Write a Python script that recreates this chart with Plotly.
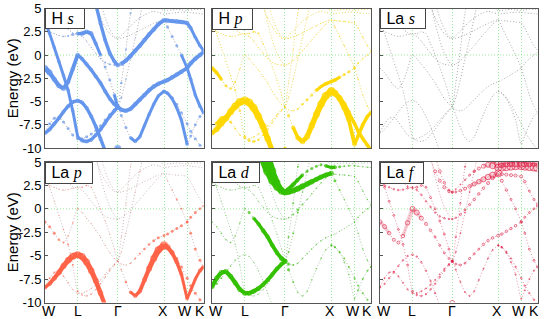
import numpy as np
import plotly.graph_objects as go
from plotly.subplots import make_subplots

# ---------------- data ----------------
K_PATH = [0.0, 0.1, 0.2, 0.3, 0.4, 0.5, 0.6, 0.707,
          0.8, 0.9, 1.0, 1.1, 1.2, 1.3, 1.4, 1.5, 1.573,
          1.65, 1.75, 1.85, 1.95, 2.05, 2.15, 2.25, 2.35, 2.45, 2.573,
          2.65, 2.75, 2.85, 2.95, 3.073,
          3.15, 3.25, 3.35, 3.427]
K_NODES = [0.0, 0.707, 1.573, 2.573, 3.073, 3.427]
K_LABELS = ['W', 'L', 'Γ', 'X', 'W', 'K']
E_TICKS = [5, 2.5, 0, -2.5, -5, -7.5, -10]
E_TICK_TEXT = ['5', '2.5', '0', '-2.5', '-5', '-7.5', '-10']
N = None


def seg(wl, lg, gx, xw, wk):
    out = list(wl) + list(lg) + list(gx) + list(xw) + list(wk)
    assert len(out) == len(K_PATH), len(out)
    return out


BANDS = {
    'A': seg([-8.4, -8.0, -7.4, -6.8, -6.1, -5.5, -5.05, -4.9],
             [-5.1, -5.7, -6.6, -7.7, -9.0, -10.3, -11.3, -11.9, -12.1],
             [-12.0, -11.8, -11.6, -11.5, -11.5, -11.5, -11.5, -11.5, -11.5, -11.5],
             [-11.5] * 5, [-11.5] * 4),
    'Z': seg([-11] * 8,
             [-11, -11, -11, -11, -11, -11, -11, -10.3, -10.05],
             [-10.3] + [-11] * 9, [-11] * 5, [-11] * 4),
    'B': seg([-8.3, -7.4, -6.8, -6.7, -7.2, -7.9, -8.6, -9.0],
             [-9.0, -8.8, -8.5, -8.1, -7.6, -7.0, -6.4, -5.9, -5.6],
             [-6.5, -7.8, -8.9, -9.3, -8.8, -7.6, -6.4, -5.3, -4.4, -3.9],
             [-4.1, -4.7, -5.7, -7.0, -9.6],
             [-8.7, -7.5, -6.6, -6.2]),
    'C': seg([3.6, 2.3, 0.8, -0.7, -2.2, -3.8, -6.0, -8.8],
             [-9.2, -9.3, -9.1, -8.6, -8.0, -7.3, -6.6, -6.0, -5.6],
             [-4.6, -2.6, -0.4, 1.8, 4.0, 6.0, 6.5, 6.5, 6.5, 6.5],
             [6.5] * 5, [6.5] * 4),
    'D': seg([-1.4, -1.9, -2.6, -3.3, -3.6, -2.9, -1.5, 0.0],
             [-0.4, -1.0, -1.6, -2.3, -3.0, -3.9, -4.7, -5.3, -5.6],
             [-5.9, -6.0, -5.8, -5.3, -4.8, -4.3, -3.8, -3.4, -3.1, -2.85],
             [-2.7, -2.4, -2.1, -1.8, -1.4],
             [-0.9, -0.4, 0.0, 0.3]),
    'E1': seg([5.4, 4.9, 4.4, 3.9, 3.3, 2.8, 2.4, 2.2],
              [2.0, 1.5, 0.8, 0.2, -0.4, -0.8, -1.0, -1.08, -1.1],
              [-0.95, -0.6, -0.1, 0.45, 1.0, 1.6, 2.2, 2.75, 3.3, 3.75],
              [3.7, 3.65, 3.6, 3.55, 3.45],
              [2.9, 1.9, 1.0, 0.5]),
    'E2': seg([2.7, 2.5, 2.3, 2.1, 2.0, 2.05, 2.2, 2.3],
              [2.3, 2.5, 2.3, 1.2, 0.0, -1.3, -2.7, -4.3, -5.6],
              [-3.0, 0.6, 4.5, 6.5, 6.5, 6.5, 6.5, 6.5, 6.5, 6.5],
              [6.5] * 5, [6.5] * 4),
    'S': seg([N] * 8,
             [N, N, 6.5, 5.4, 3.4, 1.6, 0.2, -0.7, -1.1],
             [N] * 10, [N] * 5, [N] * 4),
    'F1': seg([6.5] * 8,
              [6.5, 6.5, 6.5, 5.3, 4.0, 3.0, 2.3, 1.85, 1.75],
              [1.8, 1.95, 2.15, 2.4, 2.65, 2.9, 3.15, 3.4, 3.6, 3.8],
              [3.0, 2.0, 1.0, 0.0, -1.4],
              [-2.6, -4.3, -5.5, -6.2]),
    'F2': seg([6.5] * 8,
              [6.5, 6.5, 6.5, 6.5, 5.6, 4.0, 2.8, 2.0, 1.8],
              [2.1, 2.6, 3.1, 3.6, 4.0, 4.3, 4.55, 4.7, 4.6, 4.4],
              [4.45, 4.5, 4.55, 4.6, 4.6],
              [4.55, 4.5, 4.45, 4.4]),
    'F3': seg([6.5] * 8, [6.5] * 9,
              [6.5] * 8 + [5.2, 4.75],
              [4.8, 4.85, 4.9, 4.85, 4.8],
              [4.85, 4.9, 4.9, 4.9]),
    'H': seg([N] * 8, [N] * 9, [N] * 9 + [-3.9],
             [-4.1, -4.6, -5.3, -6.2, -7.4],
             [-8.2, -9.0, -9.7, -10.2]),
}

# orbital weights (marker diameter, px) per panel
W_HS = {
    'A': seg([4] * 8, [4] * 9, [0] * 10, [0] * 5, [0] * 4),
    'Z': seg([0] * 8, [0, 0, 0, 0, 0, 0, 0, 4, 7], [4] + [0] * 9, [0] * 5, [0] * 4),
    'B': seg([3] * 8, [3] * 9, [3, 3, 3.5, 3.5, 3.5, 3.5, 3.5, 3.5, 3.5, 3.5], [3.5] * 5, [3] * 4),
    'C': seg([3.5] * 8, [4] * 9, [2, 1.5, 1.5, 1, 1, 0, 0, 0, 0, 0], [0] * 5, [0] * 4),
    'D': seg([6, 6, 5, 5, 5, 4.5, 4.5, 4.5], [4] * 8 + [4.5], [4.5] * 10, [4.5] * 5, [4.5] * 4),
    'E1': seg([1] * 8, [1, 1, 1, 1, 1.5, 2, 2, 2, 2.5], [4.5] * 10, [4.5] * 5, [4, 3.5, 3.5, 3.5]),
    'E2': seg([1, 1, 1, 1, 1.5, 2, 3, 4], [4.5, 4.5, 4.5, 4, 3.5, 3, 3, 3.5, 4],
              [2.5, 2, 2, 0, 0, 0, 0, 0, 0, 0], [0] * 5, [0] * 4),
    'S': seg([0] * 8, [0, 0, 4, 4, 4, 4, 4, 4, 4.5], [0] * 10, [0] * 5, [0] * 4),
    'F1': seg([0] * 8, [0] * 9, [0] * 10, [3, 3, 3, 3.5, 3.5], [3.5] * 4),
    'H': seg([0] * 8, [0] * 9, [0] * 9 + [3], [3] * 5, [3] * 4),
}
W_HP = {
    'A': seg([5, 5.5, 6, 6.5, 7, 7.5, 8, 8], [8, 8, 7.5, 7, 6.5, 6, 5, 4, 4], [0] * 10, [0] * 5, [0] * 4),
    'Z': seg([0] * 8, [0] * 8 + [4], [0] * 10, [0] * 5, [0] * 4),
    'B': seg([3, 4, 4, 4, 3, 2, 1.5, 1.5], [1.5] * 9, [3, 4, 5, 5.5, 6, 6.5, 7, 7.5, 8, 8],
             [7, 6, 5.5, 5, 4.5], [4] * 4),
    'C': seg([1, 1, 1, 1, 1.5, 2, 2.5, 3], [3, 3, 2.5, 2, 2, 1.5, 1.5, 1, 1], [1] * 10, [0] * 5, [0] * 4),
    'D': seg([4, 4, 3.5, 3, 2.5, 2, 1.5, 1], [1] * 9, [1, 1.5, 2, 2.5, 3, 3, 3.5, 3.5, 4, 4],
             [4, 3.5, 3, 3, 3], [2, 1.5, 1.5, 1.5]),
    'E1': seg([1] * 8, [1] * 9, [1] * 10, [1.5] * 5, [1.5] * 4),
    'E2': seg([1] * 8, [1.5, 2, 2, 1.5, 1, 1, 1, 1, 1], [1, 1, 1, 0, 0, 0, 0, 0, 0, 0], [0] * 5, [0] * 4),
    'F1': seg([0] * 8, [0, 0, 0, 1, 1, 1, 1, 1, 1], [1] * 10, [1.5] * 5, [1.5] * 4),
    'H': seg([0] * 8, [0] * 9, [0] * 9 + [8], [6, 5.5, 5, 4.5, 4], [4] * 4),
}
W_LS = {}
W_LP = {
    'A': seg([4, 4.5, 5, 5.5, 6, 6.5, 7, 7], [7, 7, 6.5, 6, 5.5, 5, 4, 3, 3], [0] * 10, [0] * 5, [0] * 4),
    'B': seg([2, 2, 2, 2, 1.5, 1.5, 1, 1], [1] * 9, [1.5, 2.5, 3.5, 4, 4.5, 5, 6, 7, 7.5, 8],
             [6, 5, 4.5, 4, 3.5], [3.5, 3.5, 4, 4]),
    'C': seg([1, 1, 1, 1, 1.5, 2, 2, 2], [1.5] * 9, [1] * 10, [0] * 5, [0] * 4),
    'D': seg([3, 3, 3, 2.5, 2, 1.5, 1.5, 1.5], [1] * 9, [1, 1, 1.5, 2, 2, 2.5, 2.5, 3, 3, 3],
             [3] * 5, [3, 3, 2.5, 2.5]),
    'E2': seg([1] * 8, [1.5, 1.5, 1.5, 1, 1, 1, 1, 1, 1], [1] * 10, [0] * 5, [0] * 4),
    'F1': seg([0] * 8, [0] * 9, [0] * 10, [1, 1.5, 2, 2, 2.5], [3] * 4),
    'H': seg([0] * 8, [0] * 9, [0] * 9 + [3], [3] * 5, [3] * 4),
}
W_LD = {
    'A': seg([2.5, 2.5, 2, 2, 1.5, 1.5, 1, 1], [1] * 9, [0] * 10, [0] * 5, [0] * 4),
    'B': seg([5] * 8, [5, 5, 5, 4.5, 4.5, 4.5, 4.5, 4.5, 5], [3, 2, 1.5, 1.5, 1.5, 1.5, 1.5, 1.5, 1.5, 1.5],
             [1.5] * 5, [2] * 4),
    'C': seg([1] * 8, [1] * 9, [2, 2, 2, 1.5, 1, 0, 0, 0, 0, 0], [0] * 5, [0] * 4),
    'D': seg([1.5] * 8, [3, 3.5, 4, 4.5, 4.5, 4.5, 4.5, 5, 5], [3, 2, 1.5, 1.5, 1.5, 1.5, 1.5, 1.5, 1.5, 1.5],
             [1] * 5, [1.5] * 4),
    'E1': seg([1] * 8, [1] * 9, [1.5, 2, 2.5, 2, 1.5, 1.5, 1.5, 1.5, 1.5, 1.5], [1.5] * 5, [1.5] * 4),
    'E2': seg([1] * 8, [1] * 9, [2, 2, 2, 0, 0, 0, 0, 0, 0, 0], [0] * 5, [0] * 4),
    'F1': seg([0] * 8, [0, 0, 0, 9, 9, 8, 7, 6.5, 6], [6, 6, 6, 6, 5.5, 5.5, 5, 5, 5, 5],
              [3, 2, 1.5, 1.5, 1.5], [1.5] * 4),
    'F2': seg([0] * 8, [0, 0, 0, 0, 9, 8, 7, 6, 6], [5, 4.5, 4, 3.5, 3, 3, 3, 3, 3.5, 4],
              [4, 3, 2, 2, 2], [1.5] * 4),
    'H': seg([0] * 8, [0] * 9, [0] * 9 + [2], [2] * 5, [2] * 4),
}
W_LF = {
    'A': seg([1.5] * 8, [1.5] * 9, [0] * 10, [0] * 5, [0] * 4),
    'Z': seg([0] * 8, [0] * 8 + [5], [0] * 10, [0] * 5, [0] * 4),
    'B': seg([1.2] * 8, [1.2] * 9, [1.2] * 10, [1.2] * 5, [1.2] * 4),
    'C': seg([2] * 8, [1.5] * 9, [1.2] * 10, [0] * 5, [0] * 4),
    'D': seg([4, 4, 3.5, 3, 3, 3.5, 4.5, 5], [5, 4, 3, 2.5, 2, 2, 2, 2, 2.5],
             [2, 2, 2, 2, 2, 2, 2.5, 2.5, 2.5, 3], [2.5] * 5, [2] * 4),
    'E1': seg([1.2] * 8, [1.5] * 9, [1.5, 2, 2, 2, 2.5, 2.5, 2.5, 3, 3.5, 4], [3] * 5, [2.5, 2, 2, 2]),
    'E2': seg([1.5] * 8, [2] * 9, [1.5, 1.5, 1.5, 0, 0, 0, 0, 0, 0, 0], [0] * 5, [0] * 4),
    'F1': seg([0] * 8, [0, 0, 0, 3, 3, 3, 3, 2.5, 2], [2, 2.5, 3, 3.5, 4, 4.5, 5, 5.5, 6, 7],
              [3, 2.5, 2, 2, 2], [2] * 4),
    'F2': seg([0] * 8, [0, 0, 0, 0, 3, 3, 2.5, 2, 2], [1, 1, 1.5, 2, 2.5, 3, 4, 5, 6, 7], [8] * 5, [8] * 4),
    'F3': seg([0] * 8, [0] * 9, [0] * 8 + [6, 7], [7] * 5, [7] * 4),
    'H': seg([0] * 8, [0] * 9, [0] * 9 + [1.5], [1.5] * 5, [1.5] * 4),
}

PANELS = [
    # row, col, atom, orbital, colour, thin-band colour, weights, open markers
    (1, 1, 'H', 's', '#6495ED', 'rgba(100,100,110,0.6)', W_HS, False),
    (1, 2, 'H', 'p', '#FFD700', 'rgba(225,195,20,0.75)', W_HP, False),
    (1, 3, 'La', 's', '#9a9a9a', 'rgba(95,95,95,0.6)', W_LS, False),
    (2, 1, 'La', 'p', '#FF6347', 'rgba(150,110,110,0.55)', W_LP, False),
    (2, 2, 'La', 'd', '#33C000', 'rgba(90,150,90,0.6)', W_LD, False),
    (2, 3, 'La', 'f', '#DC143C', 'rgba(200,60,90,0.6)', W_LF, True),
]

SANS = 'Liberation Sans Narrow, Arial Narrow, Liberation Sans, Arial, sans-serif'

# ---------------- figure ----------------
fig = make_subplots(rows=2, cols=3)
K = np.array(K_PATH)


def as_arr(vals):
    return np.array([np.nan if v is None else v for v in vals], float)


def add_panel(row, col, color, thin_color, weights, open_markers):
    # thin background bands
    for name, E in BANDS.items():
        fig.add_trace(go.Scatter(
            x=K_PATH, y=E, mode='lines',
            line=dict(color=thin_color, width=0.9, dash='1px,2px',
                      shape='spline', smoothing=0.6),
            hoverinfo='skip', showlegend=False), row=row, col=col)
    buckets = {}
    mx, my, ms = [], [], []
    for name, w in weights.items():
        E = as_arr(BANDS[name])
        w = np.array(w, float)
        for i in range(len(K) - 1):
            if np.isnan(E[i]) or np.isnan(E[i + 1]):
                continue
            lw = min(w[i], w[i + 1])
            if lw < 3.5:
                continue
            key = round(lw * 2) / 2
            xs, ys = buckets.setdefault(key, ([], []))
            xs += [K[i], K[i + 1], None]
            ys += [E[i], E[i + 1], None]
        for i in range(len(K)):
            if w[i] > 0.3 and not np.isnan(E[i]):
                mx.append(K[i]); my.append(E[i]); ms.append(w[i])
    seg_color = 'rgba(220,20,60,0.20)' if open_markers else color
    for key, (xs, ys) in sorted(buckets.items()):
        fig.add_trace(go.Scatter(
            x=xs, y=ys, mode='lines',
            line=dict(color=seg_color, width=key * (1.0 if open_markers else 0.85)),
            hoverinfo='skip', showlegend=False), row=row, col=col)
    if mx:
        if open_markers:
            marker = dict(size=ms, symbol='circle-open', color=color,
                          line=dict(width=0.8, color=color))
        else:
            marker = dict(size=ms, color=color, line=dict(width=0))
        fig.add_trace(go.Scatter(x=mx, y=my, mode='markers', marker=marker,
                                 hoverinfo='skip', showlegend=False), row=row, col=col)


NB = '\u00a0'
for (r, c, atom, orb, colr, thin, wts, op) in PANELS:
    add_panel(r, c, colr, thin, wts, op)
    fig.add_annotation(
        row=r, col=c, xref='x domain', yref='y domain', x=0, y=1,
        xanchor='left', yanchor='top', showarrow=False,
        text=(NB + atom + NB + '<i><span style="font-family:Liberation Serif, Times New Roman, serif">'
              + orb + '</span></i>' + NB + NB),
        font=dict(size=16, color='black', family='Liberation Sans, Arial, sans-serif'),
        bgcolor='white', bordercolor='#444', borderwidth=1, borderpad=1)

XDOM = [(45 / 545, 203.5 / 545), (212 / 545, 371 / 545), (380 / 545, 537.5 / 545)]
YDOM = [(1 - 148 / 319, 1 - 8.5 / 319), (1 - 302.5 / 319, 1 - 162 / 319)]
GRID_GREEN = 'rgba(120,225,120,0.75)'
for r in (1, 2):
    for c in (1, 2, 3):
        fig.update_xaxes(
            row=r, col=c, domain=XDOM[c - 1], range=[K_NODES[0], K_NODES[-1]],
            tickvals=K_NODES, ticktext=K_LABELS, showticklabels=False,
            ticks='', showgrid=True, gridcolor=GRID_GREEN, griddash='1px,2px', gridwidth=1,
            showline=True, mirror=True, linecolor='#555', linewidth=1, zeroline=False,
            automargin=False)
        fig.update_yaxes(
            row=r, col=c, domain=YDOM[r - 1], range=[-10, 5],
            tickvals=E_TICKS, ticktext=E_TICK_TEXT, showticklabels=(c == 1),
            ticks='inside', ticklen=3, tickcolor='#555', showgrid=False,
            showline=True, mirror=True, linecolor='#555', linewidth=1, zeroline=False,
            automargin=False,
            tickfont=dict(size=13, color='black', family=SANS))
        fig.add_hline(y=0, row=r, col=c, line=dict(color=GRID_GREEN, width=1, dash='1px,2px'),
                      layer='below')

# k-point labels under the bottom row
SHIFTS = [4, 0, 0, -1, -2, -4]
for c, xname in zip((1, 2, 3), ('x4', 'x5', 'x6')):
    for kv, lab, sh in zip(K_NODES, K_LABELS, SHIFTS):
        fig.add_annotation(xref=xname, yref='paper', x=kv, y=1 - 310.5 / 319, text=lab,
                           showarrow=False, xanchor='center', yanchor='middle', xshift=sh,
                           font=dict(size=14, color='black', family=SANS))

for r in (1, 2):
    yc = sum(YDOM[r - 1]) / 2
    fig.add_annotation(xref='paper', yref='paper', x=12 / 545, y=yc, text='Energy (eV)',
                       textangle=-90, showarrow=False, xanchor='center', yanchor='middle',
                       font=dict(size=15, color='black', family='Liberation Sans, Arial'))

fig.update_layout(width=545, height=319, margin=dict(l=0, r=0, t=0, b=0),
                  plot_bgcolor='white', paper_bgcolor='white', showlegend=False)

fig.write_html("out.html", config={'displayModeBar': False},
               post_script="document.body.style.margin='0';document.body.style.overflow='hidden';")
